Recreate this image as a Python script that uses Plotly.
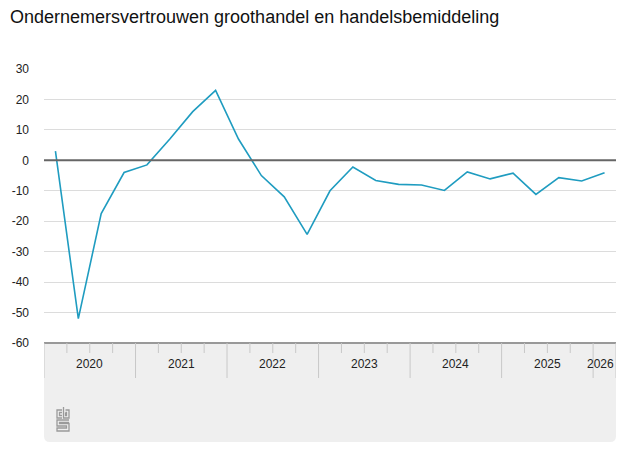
import plotly.graph_objects as go

title = "Ondernemersvertrouwen groothandel en handelsbemiddeling"
quarters = ["2020Q1","2020Q2","2020Q3","2020Q4","2021Q1","2021Q2","2021Q3","2021Q4",
            "2022Q1","2022Q2","2022Q3","2022Q4","2023Q1","2023Q2","2023Q3","2023Q4",
            "2024Q1","2024Q2","2024Q3","2024Q4","2025Q1","2025Q2","2025Q3","2025Q4","2026Q1"]
values = [3, -52, -17.5, -4, -1.5, 7, 16, 23,
          7, -5, -12, -24.3, -10, -2.2, -6.6, -7.9,
          -8.1, -9.9, -3.8, -6.1, -4.2, -11.2, -5.7, -6.8, -4.1]
years = ["2020", "2021", "2022", "2023", "2024", "2025", "2026"]
yticks = [30, 20, 10, 0, -10, -20, -30, -40, -50, -60]

OFF = 8  # page body margin
W, H = 627 - 2 * OFF, 470 - 2 * OFF
X0, X1, Y0, Y1 = 44, 616, 69, 343  # plot area in window pixels

def px(x):
    return (x - X0) / (X1 - X0)

def py(y):
    return (Y1 - y) / (Y1 - Y0)

xidx = list(range(len(quarters)))

fig = go.Figure()
fig.add_trace(go.Scatter(x=xidx, y=values, mode="lines",
                         line=dict(color="#1f9cc0", width=1.6),
                         hoverinfo="skip", showlegend=False))

shapes = []
# gray box below plot with rounded bottom corners
r = 6
bx0, bx1, by0, by1 = px(44), px(616), py(343), py(442)
rx = r / (X1 - X0)
ry = r / (Y1 - Y0)
path = (f"M {bx0},{by0} L {bx1},{by0} L {bx1},{by1+ry} "
        f"Q {bx1},{by1} {bx1-rx},{by1} L {bx0+rx},{by1} "
        f"Q {bx0},{by1} {bx0},{by1+ry} Z")
shapes.append(dict(type="path", path=path, xref="paper", yref="paper",
                   fillcolor="#efefef", line=dict(width=0), layer="below"))
# zero line
shapes.append(dict(type="line", xref="paper", yref="y", x0=0, x1=1, y0=0, y1=0,
                   line=dict(color="#666666", width=2)))
# axis top line of the gray box
shapes.append(dict(type="line", xref="paper", yref="paper", x0=0, x1=1, y0=0, y1=0,
                   line=dict(color="#999999", width=2)))
# year separators and quarter ticks
n = len(quarters)
for k in range(n + 1):
    xb = k - 0.5
    if k % 4 == 0 or k == n:
        shapes.append(dict(type="line", xref="x", yref="paper", x0=xb, x1=xb,
                           y0=py(343), y1=py(378), line=dict(color="#c8c8c8", width=1)))
    else:
        shapes.append(dict(type="line", xref="x", yref="paper", x0=xb, x1=xb,
                           y0=py(343), y1=py(353), line=dict(color="#c8c8c8", width=1)))

# cbs logo (approximation)
lc = dict(color="#9a9a9a", width=1.3)
def seg(points):
    d = "M " + " L ".join(f"{px(a)},{py(b)}" for a, b in points)
    return dict(type="path", path=d, xref="paper", yref="paper", line=lc)
# "c"
shapes.append(seg([(62, 410), (57, 410), (57, 418), (62, 418)]))
shapes.append(seg([(62, 412.5), (59.5, 412.5), (59.5, 415.5), (62, 415.5)]))
# "b"
shapes.append(seg([(63.5, 407), (63.5, 418), (69, 418), (69, 410), (65.5, 410)]))
shapes.append(seg([(65.5, 412.5), (66.5, 412.5), (66.5, 415.5), (65.5, 415.5), (65.5, 412.5)]))
# "s"
shapes.append(seg([(69, 420), (57, 420), (57, 426), (66.5, 426), (66.5, 428), (57, 428),
                   (57, 431), (69, 431), (69, 423.5), (59.5, 423.5), (59.5, 422.5), (69, 422.5)]))

annotations = []
for i, yr in enumerate(years):
    if i < len(years) - 1:
        xc = 4 * i + 1.5
        xa = "center"
    else:
        xc = 4 * i + 0.5
        xa = "right"
    annotations.append(dict(x=xc, y=py(364), xref="x", yref="paper", text=yr,
                            showarrow=False, font=dict(size=12, color="#222222",
                            family="Liberation Sans, Arial, sans-serif"),
                            xanchor=xa, yanchor="middle"))

fig.update_layout(
    width=W, height=H,
    margin=dict(l=X0 - OFF, r=W - (X1 - OFF), t=Y0 - OFF, b=H - (Y1 - OFF), pad=0),
    paper_bgcolor="white", plot_bgcolor="white",
    title=dict(text=title, x=(10 - OFF) / W, xanchor="left", y=1 - (17 - OFF) / H,
               yanchor="middle", xref="container", yref="container",
               font=dict(size=18, color="#111111", family="Liberation Sans, Arial, sans-serif")),
    xaxis=dict(range=[-0.5, n - 0.5], showgrid=False, zeroline=False, showticklabels=False,
               ticks="", showline=False, fixedrange=True),
    yaxis=dict(range=[-60, 30], tickvals=yticks, ticktext=[str(v) for v in yticks],
               showgrid=True, gridcolor="#dcdcdc", gridwidth=1, zeroline=False,
               ticks="", ticklabelstandoff=14, showline=False,
               tickfont=dict(size=12, color="#222222", family="Liberation Sans, Arial, sans-serif"),
               fixedrange=True),
    shapes=shapes, annotations=annotations,
    showlegend=False,
)

fig.write_html("out.html", config={"displayModeBar": False})
